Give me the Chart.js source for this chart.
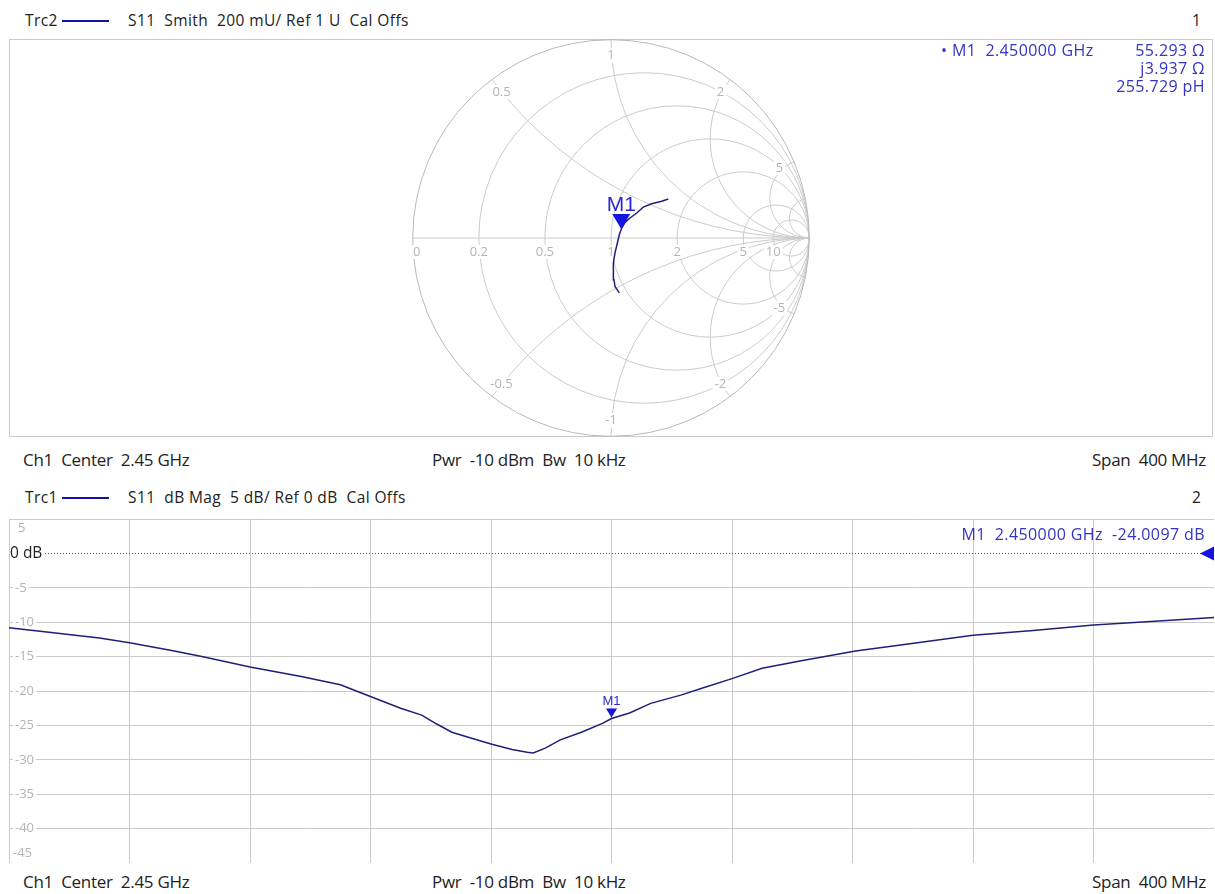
<!DOCTYPE html>
<html>
<head>
<meta charset="utf-8">
<script src="https://cdn.jsdelivr.net/npm/chart.js@4.4.1/dist/chart.umd.min.js"></script>
<style>
body { margin: 0; background: #fff; width: 1215px; height: 894px; position: relative; overflow: hidden; font-family: 'Open Sans', sans-serif; color: #222; }
.t { position: absolute; white-space: pre; line-height: 20px; }
.hd { font-size: 15.5px; letter-spacing: 0.4px; }
.foot { font-size: 17px; letter-spacing: -0.3px; }
.mk { color: #3434c4; font-size: 16px; letter-spacing: 0.4px; }
.r { text-align: right; }
.trc { position: absolute; height: 2px; background: #1212a8; }
canvas { position: absolute; }
</style>
</head>
<body>

<div class="t hd" style="left:25px;top:10px">Trc2</div>
<div class="trc" style="left:62px;top:20px;width:47px"></div>
<div class="t hd" style="left:128px;top:10px">S11  Smith  200 mU/ Ref 1 U  Cal Offs</div>
<div class="t hd" style="left:1192px;top:10px">1</div>

<canvas id="smithChart" width="1204" height="398" style="left:9px;top:39px"></canvas>

<div class="t mk" style="left:941px;top:40px">• M1  2.450000 GHz</div>
<div class="t mk r" style="right:10px;top:40px">55.293 Ω</div>
<div class="t mk r" style="right:10px;top:58px">j3.937 Ω</div>
<div class="t mk r" style="right:10px;top:76px">255.729 pH</div>

<div class="t foot" style="left:23px;top:450px">Ch1  Center  2.45 GHz</div>
<div class="t foot" style="left:432px;top:450px">Pwr  -10 dBm  Bw  10 kHz</div>
<div class="t foot r" style="right:9px;top:450px">Span  400 MHz</div>

<div class="t hd" style="left:25px;top:487px">Trc1</div>
<div class="trc" style="left:62px;top:497px;width:47px"></div>
<div class="t hd" style="left:128px;top:487px">S11  dB Mag  5 dB/ Ref 0 dB  Cal Offs</div>
<div class="t hd" style="left:1192px;top:487px">2</div>

<canvas id="dbChart" width="1205" height="344" style="left:9px;top:519px"></canvas>

<div class="t mk r" style="right:10px;top:524px">M1  2.450000 GHz  -24.0097 dB</div>

<div class="t foot" style="left:23px;top:872px">Ch1  Center  2.45 GHz</div>
<div class="t foot" style="left:432px;top:872px">Pwr  -10 dBm  Bw  10 kHz</div>
<div class="t foot r" style="right:9px;top:872px">Span  400 MHz</div>

<script>
// Trace 1: S11 dB magnitude
var freqMHz = [2250, 2264, 2280, 2290, 2304, 2314, 2330, 2347, 2360, 2367,
               2380, 2387, 2392, 2397, 2403, 2410, 2417, 2422, 2424, 2428,
               2433, 2440, 2447, 2450, 2456, 2463, 2473, 2480, 2490, 2500,
               2513, 2531, 2546, 2570, 2590, 2610, 2629, 2650];
var s11dB = [-10.8, -11.5, -12.3, -13.0, -14.1, -15.0, -16.5, -17.9, -19.1, -20.3,
             -22.5, -23.5, -24.8, -26.0, -26.8, -27.7, -28.5, -28.9, -29.0, -28.3,
             -27.1, -26.0, -24.7, -24.0, -23.2, -21.8, -20.6, -19.6, -18.2, -16.7,
             -15.6, -14.2, -13.3, -11.9, -11.2, -10.4, -9.9, -9.3];

// Trace 2: S11 on the Smith chart (reflection coefficient, low to high frequency)
var gammaRe = [0.042, 0.020, 0.015, 0.012, 0.012, 0.020, 0.032, 0.042, 0.054, 0.071, 0.096, 0.130, 0.163, 0.205, 0.256, 0.289];
var gammaIm = [-0.277, -0.244, -0.210, -0.168, -0.126, -0.076, -0.025, 0.017, 0.050, 0.079, 0.101, 0.126, 0.156, 0.173, 0.185, 0.197];

// Marker M1
var markerFreqMHz = 2450;
var markerDb = -24.0097;
var markerR = 55.293, markerX = 3.937, z0 = 50;

// Axes
var freqStart = 2250, freqStop = 2650, freqStep = 40;
var dbTicks = [5, 0, -5, -10, -15, -20, -25, -30, -35, -40, -45];
var dbTickLabels = ['5', '0 dB', '-5', '-10', '-15', '-20', '-25', '-30', '-35', '-40', '-45'];
var refLevel = 0;

// Smith grid
var rCircles = [0.2, 0.5, 1, 2, 5, 10];
var xArcs = [0.5, 1, 2, 5, 10];
var rLabels = ['0', '0.2', '0.5', '1', '2', '5', '10'];
var rLabelValues = [0, 0.2, 0.5, 1, 2, 5, 10];
var xLabelValues = [0.5, 1, 2, 5, -0.5, -1, -2, -5];
var xLabels = ['0.5', '1', '2', '5', '-0.5', '-1', '-2', '-5'];

var gridColor = '#cbcbcb';
var labelColor = '#b4b4b4';
var traceColor = '#1f1f78';
var markerColor = '#1414e0';
var smithRadiusPx = 198.3;

function markerGamma()
{
    var zr = markerR / z0, zx = markerX / z0;
    var nr = zr - 1, ni = zx, dr = zr + 1, di = zx;
    var d = dr * dr + di * di;
    return { re: (nr * dr + ni * di) / d, im: (ni * dr - nr * di) / d };
}

function labelWithBack(ctx, text, x, y, align)
{
    var w = ctx.measureText(text).width;
    var left = align == 'left' ? x : x - w / 2;
    ctx.fillStyle = '#fff';
    ctx.fillRect(left - 2, y - 7, w + 4, 14);
    ctx.fillStyle = labelColor;
    ctx.textAlign = align;
    ctx.fillText(text, x, y);
}

function drawMarker(ctx, x, y, w, h, font, labelGap)
{
    ctx.fillStyle = markerColor;
    ctx.beginPath();
    ctx.moveTo(x, y);
    ctx.lineTo(x - w / 2, y - h);
    ctx.lineTo(x + w / 2, y - h);
    ctx.closePath();
    ctx.fill();
    ctx.font = font;
    ctx.textAlign = 'center';
    ctx.textBaseline = 'alphabetic';
    ctx.fillStyle = '#2a2ad4';
    ctx.fillText('M1', x, y - h - labelGap);
}

var smithGridPlugin = {
    id: 'smithGrid',
    beforeDatasetsDraw: function(chart) {
        var ctx = chart.ctx, xs = chart.scales.x, ys = chart.scales.y;
        var cx = xs.getPixelForValue(0), cy = ys.getPixelForValue(0);
        var rad = xs.getPixelForValue(1) - cx;
        var w = chart.width, h = chart.height;

        ctx.save();
        ctx.strokeStyle = gridColor;
        ctx.lineWidth = 1;
        ctx.strokeRect(0.5, 0.5, w - 1, h - 1);

        ctx.save();
        ctx.beginPath();
        ctx.arc(cx, cy, rad, 0, 2 * Math.PI);
        ctx.clip();
        rCircles.forEach(function(r) {
            ctx.beginPath();
            ctx.arc(xs.getPixelForValue(r / (1 + r)), cy, rad / (1 + r), 0, 2 * Math.PI);
            ctx.stroke();
        });
        xArcs.forEach(function(x) {
            [x, -x].forEach(function(v) {
                ctx.beginPath();
                ctx.arc(xs.getPixelForValue(1), ys.getPixelForValue(1 / v), rad / Math.abs(v), 0, 2 * Math.PI);
                ctx.stroke();
            });
        });
        ctx.beginPath();
        ctx.moveTo(xs.getPixelForValue(-1), cy);
        ctx.lineTo(xs.getPixelForValue(1), cy);
        ctx.stroke();
        ctx.restore();

        ctx.strokeStyle = '#b8b8b8';
        ctx.beginPath();
        ctx.arc(cx, cy, rad, 0, 2 * Math.PI);
        ctx.stroke();

        // grid labels
        ctx.font = '13px "Open Sans"';
        ctx.textBaseline = 'middle';
        rLabelValues.forEach(function(r, i) {
            var g = (r - 1) / (r + 1);
            var x = xs.getPixelForValue(g);
            if (r == 0) x += 4;
            labelWithBack(ctx, rLabels[i], x, cy + 14, 'center');
        });
        xLabelValues.forEach(function(v, i) {
            var gr = (v * v - 1) / (v * v + 1), gi = 2 * v / (v * v + 1);
            labelWithBack(ctx, xLabels[i], xs.getPixelForValue(gr * 0.92), ys.getPixelForValue(gi * 0.92), 'center');
        });
        ctx.restore();
    },
    afterDatasetsDraw: function(chart) {
        var ctx = chart.ctx, xs = chart.scales.x, ys = chart.scales.y;
        var g = markerGamma();
        ctx.save();
        drawMarker(ctx, xs.getPixelForValue(g.re), ys.getPixelForValue(g.im) - 2, 18, 15, '21px "Liberation Sans", Arial', 3);
        ctx.restore();
    }
};

var dbPlugin = {
    id: 'dbDecor',
    beforeDatasetsDraw: function(chart) {
        var ctx = chart.ctx, xs = chart.scales.x, ys = chart.scales.y;
        var area = chart.chartArea;
        ctx.save();
        // reference line
        var yRef = Math.round(ys.getPixelForValue(refLevel)) + 0.5;
        ctx.strokeStyle = '#555';
        ctx.lineWidth = 1;
        ctx.setLineDash([1, 2]);
        ctx.beginPath();
        ctx.moveTo(area.left + 36, yRef);
        ctx.lineTo(area.right, yRef);
        ctx.stroke();
        ctx.setLineDash([]);

        dbTicks.forEach(function(v, i) {
            var y = ys.getPixelForValue(v);
            if (v == refLevel) {
                ctx.font = '15.5px "Open Sans"';
                ctx.fillStyle = '#222';
                ctx.textAlign = 'left';
                ctx.textBaseline = 'middle';
                ctx.fillText(dbTickLabels[i], area.left + 1, y);
                return;
            }
            ctx.font = '13px "Open Sans"';
            ctx.textBaseline = 'middle';
            if (i == 0) { labelWithBack(ctx, dbTickLabels[i], area.left + 9, y + 9, 'left'); return; }
            if (i == dbTicks.length - 1) { labelWithBack(ctx, dbTickLabels[i], area.left + 4, y - 10, 'left'); return; }
            labelWithBack(ctx, dbTickLabels[i], area.left + 6, y, 'left');
        });

        // reference position arrow
        ctx.fillStyle = markerColor;
        ctx.beginPath();
        ctx.moveTo(area.right - 14, yRef);
        ctx.lineTo(area.right, yRef - 7);
        ctx.lineTo(area.right, yRef + 7);
        ctx.closePath();
        ctx.fill();
        ctx.restore();
    },
    afterDatasetsDraw: function(chart) {
        var ctx = chart.ctx, xs = chart.scales.x, ys = chart.scales.y;
        ctx.save();
        drawMarker(ctx, xs.getPixelForValue(markerFreqMHz), ys.getPixelForValue(markerDb) - 1, 11, 9, '13px "Liberation Sans", Arial', 4);
        ctx.restore();
    }
};

// Smith chart: scale ranges chosen so that |gamma| = 1 is a circle of smithRadiusPx
var smithCanvas = document.getElementById('smithChart');
var halfX = smithCanvas.width / 2 / smithRadiusPx;
var halfY = smithCanvas.height / 2 / smithRadiusPx;
var smithPoints = [];
for (var i = 0; i < gammaRe.length; ++i) smithPoints.push({ x: gammaRe[i], y: gammaIm[i] });

new Chart(smithCanvas, {
    type: 'scatter',
    data: {
        datasets: [{
            data: smithPoints,
            showLine: true,
            borderColor: traceColor,
            borderWidth: 1.5,
            pointRadius: 0,
            tension: 0
        }]
    },
    options: {
        responsive: false,
        animation: false,
        layout: { padding: 0 },
        plugins: { legend: { display: false }, tooltip: { enabled: false } },
        scales: {
            x: { display: false, min: -halfX, max: halfX },
            y: { display: false, min: -halfY, max: halfY }
        }
    },
    plugins: [smithGridPlugin]
});

// dB magnitude chart
var dbPoints = [];
for (var j = 0; j < freqMHz.length; ++j) dbPoints.push({ x: freqMHz[j], y: s11dB[j] });

new Chart(document.getElementById('dbChart'), {
    type: 'line',
    data: {
        datasets: [{
            data: dbPoints,
            borderColor: traceColor,
            borderWidth: 1.5,
            pointRadius: 0,
            tension: 0
        }]
    },
    options: {
        responsive: false,
        animation: false,
        layout: { padding: 0 },
        plugins: { legend: { display: false }, tooltip: { enabled: false } },
        scales: {
            x: {
                type: 'linear', min: freqStart, max: freqStop,
                ticks: { display: false, stepSize: freqStep },
                grid: { color: gridColor, drawTicks: false },
                border: { display: false }
            },
            y: {
                min: dbTicks[dbTicks.length - 1], max: dbTicks[0],
                ticks: { display: false, stepSize: 5 },
                grid: {
                    drawTicks: false,
                    color: function(c) { return c.tick && c.tick.value == refLevel ? 'rgba(0,0,0,0)' : gridColor; }
                },
                border: { display: false }
            }
        }
    },
    plugins: [dbPlugin]
});
</script>
</body>
</html>
